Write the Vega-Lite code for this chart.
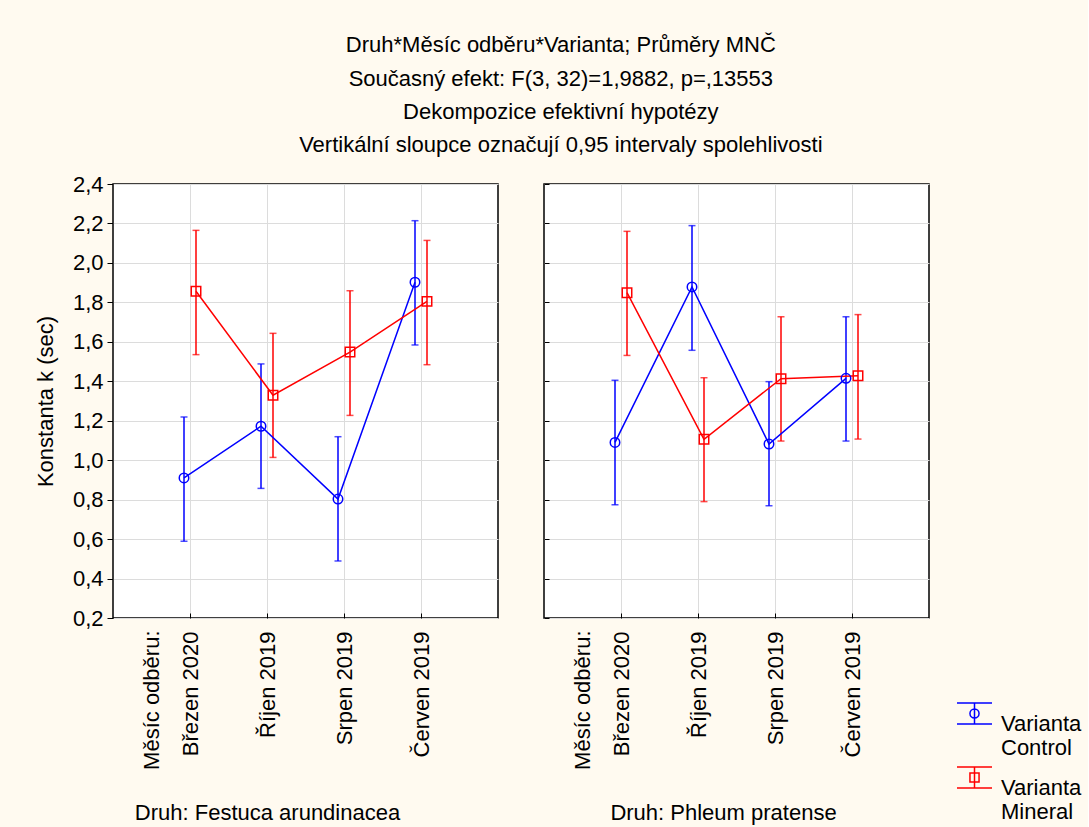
{
  "$schema": "https://vega.github.io/schema/vega-lite/v6.json",
  "background": "#FFFAF0",
  "padding": {"left": 33, "top": 34, "right": 6, "bottom": 10},
  "config": {
    "font": "Liberation Sans",
    "view": {"stroke": "black", "strokeWidth": 1.5, "fill": "white"},
    "axis": {"labelColor": "black", "titleColor": "black", "gridColor": "#DCDCDC", "gridWidth": 1, "tickColor": "black", "domain": false}
  },
  "title": {
    "text": ["Druh*Měsíc odběru*Varianta; Průměry MNČ", "Současný efekt: F(3, 32)=1,9882, p=,13553", "Dekompozice efektivní hypotézy", "Vertikální sloupce označují 0,95 intervaly spolehlivosti"],
    "fontSize": 22, "fontWeight": "normal", "lineHeight": 33.3, "anchor": "middle", "dx": 3, "offset": 15, "color": "black"
  },
  "data": {"values": [
    {"Druh": "Festuca arundinacea", "Mesic": "Březen 2020", "Varianta": "Control", "mean": 0.910, "lo": 0.589, "hi": 1.219},
    {"Druh": "Festuca arundinacea", "Mesic": "Říjen 2019", "Varianta": "Control", "mean": 1.172, "lo": 0.857, "hi": 1.488},
    {"Druh": "Festuca arundinacea", "Mesic": "Srpen 2019", "Varianta": "Control", "mean": 0.803, "lo": 0.489, "hi": 1.119},
    {"Druh": "Festuca arundinacea", "Mesic": "Červen 2019", "Varianta": "Control", "mean": 1.902, "lo": 1.584, "hi": 2.214},
    {"Druh": "Festuca arundinacea", "Mesic": "Březen 2020", "Varianta": "Mineral", "mean": 1.856, "lo": 1.535, "hi": 2.165},
    {"Druh": "Festuca arundinacea", "Mesic": "Říjen 2019", "Varianta": "Mineral", "mean": 1.329, "lo": 1.014, "hi": 1.643},
    {"Druh": "Festuca arundinacea", "Mesic": "Srpen 2019", "Varianta": "Mineral", "mean": 1.548, "lo": 1.227, "hi": 1.859},
    {"Druh": "Festuca arundinacea", "Mesic": "Červen 2019", "Varianta": "Mineral", "mean": 1.805, "lo": 1.484, "hi": 2.114},
    {"Druh": "Phleum pratense", "Mesic": "Březen 2020", "Varianta": "Control", "mean": 1.090, "lo": 0.774, "hi": 1.405},
    {"Druh": "Phleum pratense", "Mesic": "Říjen 2019", "Varianta": "Control", "mean": 1.878, "lo": 1.557, "hi": 2.189},
    {"Druh": "Phleum pratense", "Mesic": "Srpen 2019", "Varianta": "Control", "mean": 1.082, "lo": 0.769, "hi": 1.398},
    {"Druh": "Phleum pratense", "Mesic": "Červen 2019", "Varianta": "Control", "mean": 1.415, "lo": 1.097, "hi": 1.727},
    {"Druh": "Phleum pratense", "Mesic": "Březen 2020", "Varianta": "Mineral", "mean": 1.849, "lo": 1.531, "hi": 2.160},
    {"Druh": "Phleum pratense", "Mesic": "Říjen 2019", "Varianta": "Mineral", "mean": 1.106, "lo": 0.790, "hi": 1.418},
    {"Druh": "Phleum pratense", "Mesic": "Srpen 2019", "Varianta": "Mineral", "mean": 1.413, "lo": 1.097, "hi": 1.727},
    {"Druh": "Phleum pratense", "Mesic": "Červen 2019", "Varianta": "Mineral", "mean": 1.428, "lo": 1.107, "hi": 1.738}
  ]},
  "spacing": 43,
  "hconcat": [
    {
      "width": 385, "height": 434,
      "title": {"text": "Druh: Festuca arundinacea", "orient": "bottom", "fontSize": 22, "fontWeight": "normal", "offset": 34, "anchor": "middle", "dx": -38, "color": "black"},
      "transform": [{"filter": "datum.Druh === 'Festuca arundinacea'"}],
      "encoding": {
        "x": {"field": "Mesic", "type": "nominal", "sort": ["Březen 2020", "Říjen 2019", "Srpen 2019", "Červen 2019"], "scale": {"type": "point", "padding": 1},
          "axis": {"labelAngle": 270, "labelFontSize": 22, "labelPadding": 18, "tickSize": -5, "grid": true, "title": "Měsíc odběru:", "titleAngle": 270, "titleX": 38.5, "titleY": 12, "titleAlign": "right", "titleBaseline": "middle", "titleFontSize": 22, "titleFontWeight": "normal"}},
        "xOffset": {"field": "Varianta", "type": "nominal", "scale": {"type": "point", "domain": ["Control", "Mineral"], "range": [-6, 6], "padding": 0}},
        "y": {"field": "mean", "type": "quantitative", "title": "Konstanta k (sec)", "scale": {"domain": [0.2, 2.4], "nice": false, "zero": false},
          "axis": {"values": [0.2, 0.4, 0.6, 0.8, 1.0, 1.2, 1.4, 1.6, 1.8, 2.0, 2.2, 2.4], "labelExpr": "replace(format(datum.value, '.1f'), '.', ',')", "labelOverlap": false, "labelFontSize": 22, "labelPadding": 4, "tickSize": 6, "titleFontSize": 22, "titleFontWeight": "normal", "titlePadding": 15}}
      },
      "layer": [
        {"mark": {"type": "rule", "strokeWidth": 1.5},
         "encoding": {"y": {"field": "lo", "type": "quantitative", "title": "Konstanta k (sec)", "scale": {"domain": [0.2, 2.4], "nice": false, "zero": false},
            "axis": {"values": [0.2, 0.4, 0.6, 0.8, 1.0, 1.2, 1.4, 1.6, 1.8, 2.0, 2.2, 2.4], "labelExpr": "replace(format(datum.value, '.1f'), '.', ',')", "labelOverlap": false, "labelFontSize": 22, "labelPadding": 4, "tickSize": 6, "titleFontSize": 22, "titleFontWeight": "normal", "titlePadding": 15}},
          "y2": {"field": "hi"},
          "color": {"condition": {"test": "datum.Varianta === 'Control'", "value": "#0000FF"}, "value": "#FF0000"}}},
        {"mark": {"type": "tick", "thickness": 1.5, "size": 7},
         "encoding": {"y": {"field": "lo", "type": "quantitative", "title": "Konstanta k (sec)",
            "axis": {"values": [0.2, 0.4, 0.6, 0.8, 1.0, 1.2, 1.4, 1.6, 1.8, 2.0, 2.2, 2.4], "labelExpr": "replace(format(datum.value, '.1f'), '.', ',')", "labelOverlap": false, "labelFontSize": 22, "labelPadding": 4, "tickSize": 6, "titleFontSize": 22, "titleFontWeight": "normal", "titlePadding": 15}},
          "color": {"condition": {"test": "datum.Varianta === 'Control'", "value": "#0000FF"}, "value": "#FF0000"}}},
        {"mark": {"type": "tick", "thickness": 1.5, "size": 7},
         "encoding": {"y": {"field": "hi", "type": "quantitative", "title": "Konstanta k (sec)",
            "axis": {"values": [0.2, 0.4, 0.6, 0.8, 1.0, 1.2, 1.4, 1.6, 1.8, 2.0, 2.2, 2.4], "labelExpr": "replace(format(datum.value, '.1f'), '.', ',')", "labelOverlap": false, "labelFontSize": 22, "labelPadding": 4, "tickSize": 6, "titleFontSize": 22, "titleFontWeight": "normal", "titlePadding": 15}},
          "color": {"condition": {"test": "datum.Varianta === 'Control'", "value": "#0000FF"}, "value": "#FF0000"}}},
        {"mark": {"type": "line", "strokeWidth": 1.5},
         "encoding": {
          "detail": {"field": "Varianta", "type": "nominal"},
          "color": {"condition": {"test": "datum.Varianta === 'Control'", "value": "#0000FF"}, "value": "#FF0000"},
          "order": {"value": null}}},
        {"mark": {"type": "point", "filled": false, "strokeWidth": 1.5, "opacity": 1, "size": 90},
         "encoding": {
           "shape": {"condition": {"test": "datum.Varianta === 'Control'", "value": "circle"}, "value": "square"},
           "color": {"condition": {"test": "datum.Varianta === 'Control'", "value": "#0000FF"}, "value": "#FF0000"}}},
        {"mark": {"type": "point", "filled": false, "strokeWidth": 1.5, "opacity": 0, "size": 10},
         "encoding": {
           "color": {"field": "Varianta", "type": "nominal", "scale": {"domain": ["Control", "Mineral"], "range": ["#0000FF", "#FF0000"]},
             "legend": {"orient": "none", "legendX": 843, "legendY": 511, "title": null, "labelFontSize": 22, "labelColor": "black", "symbolSize": 1225, "symbolStrokeWidth": 1.5, "symbolOpacity": 1, "symbolFillColor": "transparent", "labelBaseline": "top", "labelOffset": 8, "rowPadding": -27,
               "labelExpr": "['Varianta', datum.label]",
               "encode": {"labels": {"update": {"lineHeight": {"value": 24}, "dy": {"value": -16}}}}}},
           "shape": {"field": "Varianta", "type": "nominal", "scale": {"domain": ["Control", "Mineral"], "range": ["M-1,-0.6L1,-0.6M-1,0.6L1,0.6M0,-0.6L0,0.6M0.26,0A0.26,0.26,0,1,1,-0.26,0A0.26,0.26,0,1,1,0.26,0", "M-1,-0.6L1,-0.6M-1,0.6L1,0.6M0,-0.6L0,0.6M-0.26,-0.26L0.26,-0.26L0.26,0.26L-0.26,0.26Z"]},
             "legend": {"orient": "none", "legendX": 843, "legendY": 511, "title": null, "labelFontSize": 22, "labelColor": "black", "symbolSize": 1225, "symbolStrokeWidth": 1.5, "symbolOpacity": 1, "symbolFillColor": "transparent", "labelBaseline": "top", "labelOffset": 8, "rowPadding": -27,
               "labelExpr": "['Varianta', datum.label]",
               "encode": {"labels": {"update": {"lineHeight": {"value": 24}, "dy": {"value": -16}}}}}}}}
      ]
    },
    {
      "width": 385, "height": 434,
      "title": {"text": "Druh: Phleum pratense", "orient": "bottom", "fontSize": 22, "fontWeight": "normal", "offset": 34, "anchor": "middle", "dx": -13, "color": "black"},
      "transform": [{"filter": "datum.Druh === 'Phleum pratense'"}],
      "encoding": {
        "x": {"field": "Mesic", "type": "nominal", "sort": ["Březen 2020", "Říjen 2019", "Srpen 2019", "Červen 2019"], "scale": {"type": "point", "padding": 1},
          "axis": {"labelAngle": 270, "labelFontSize": 22, "labelPadding": 18, "tickSize": -5, "grid": true, "title": "Měsíc odběru:", "titleAngle": 270, "titleX": 38.5, "titleY": 12, "titleAlign": "right", "titleBaseline": "middle", "titleFontSize": 22, "titleFontWeight": "normal"}},
        "xOffset": {"field": "Varianta", "type": "nominal", "scale": {"type": "point", "domain": ["Control", "Mineral"], "range": [-6, 6], "padding": 0}},
        "y": {"field": "mean", "type": "quantitative", "title": null, "scale": {"domain": [0.2, 2.4], "nice": false, "zero": false},
          "axis": {"values": [0.2, 0.4, 0.6, 0.8, 1.0, 1.2, 1.4, 1.6, 1.8, 2.0, 2.2, 2.4], "labels": false, "tickSize": -5, "title": null}}
      },
      "layer": [
        {"mark": {"type": "rule", "strokeWidth": 1.5},
         "encoding": {"y": {"field": "lo", "type": "quantitative", "title": null, "scale": {"domain": [0.2, 2.4], "nice": false, "zero": false},
            "axis": {"values": [0.2, 0.4, 0.6, 0.8, 1.0, 1.2, 1.4, 1.6, 1.8, 2.0, 2.2, 2.4], "labels": false, "tickSize": -5, "title": null}},
          "y2": {"field": "hi"},
          "color": {"condition": {"test": "datum.Varianta === 'Control'", "value": "#0000FF"}, "value": "#FF0000"}}},
        {"mark": {"type": "tick", "thickness": 1.5, "size": 7},
         "encoding": {"y": {"field": "lo", "type": "quantitative", "title": null, "axis": {"values": [0.2, 0.4, 0.6, 0.8, 1.0, 1.2, 1.4, 1.6, 1.8, 2.0, 2.2, 2.4], "labels": false, "tickSize": -5, "title": null}},
          "color": {"condition": {"test": "datum.Varianta === 'Control'", "value": "#0000FF"}, "value": "#FF0000"}}},
        {"mark": {"type": "tick", "thickness": 1.5, "size": 7},
         "encoding": {"y": {"field": "hi", "type": "quantitative", "title": null, "axis": {"values": [0.2, 0.4, 0.6, 0.8, 1.0, 1.2, 1.4, 1.6, 1.8, 2.0, 2.2, 2.4], "labels": false, "tickSize": -5, "title": null}},
          "color": {"condition": {"test": "datum.Varianta === 'Control'", "value": "#0000FF"}, "value": "#FF0000"}}},
        {"mark": {"type": "line", "strokeWidth": 1.5},
         "encoding": {
          "detail": {"field": "Varianta", "type": "nominal"},
          "color": {"condition": {"test": "datum.Varianta === 'Control'", "value": "#0000FF"}, "value": "#FF0000"},
          "order": {"value": null}}},
        {"mark": {"type": "point", "filled": false, "strokeWidth": 1.5, "opacity": 1, "size": 90},
         "encoding": {
           "shape": {"condition": {"test": "datum.Varianta === 'Control'", "value": "circle"}, "value": "square"},
           "color": {"condition": {"test": "datum.Varianta === 'Control'", "value": "#0000FF"}, "value": "#FF0000"}}}
      ]
    }
  ]
}
